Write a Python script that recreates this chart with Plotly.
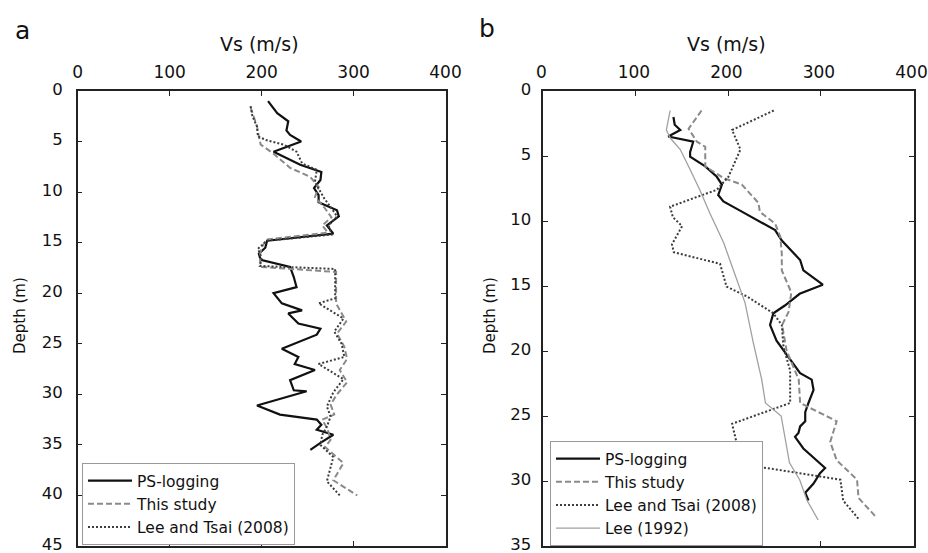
import plotly.graph_objects as go

# ---------------- Panel a data (depth m, Vs m/s) ----------------
a_ps_depth = [1.0, 2.2, 3.0, 3.9, 4.35, 5.0, 6.0, 7.3, 8.0, 8.8, 9.6, 10.3, 11.0, 11.8, 12.4, 13.3, 14.1,
              14.8, 15.5, 16.1, 16.7, 17.4, 18.4, 19.4, 20.0, 21.0, 21.7, 22.0, 23.0, 23.5, 24.1, 25.5,
              26.3, 27.0, 27.6, 28.6, 29.6, 29.7, 31.1, 32.0, 32.5, 33.0, 33.5, 34.0, 34.8, 35.5]
a_ps_vs = [207, 217, 229, 227, 231, 243, 213, 242, 265, 264, 257, 262, 262, 282, 284, 271, 278,
           206, 204, 197, 199, 231, 235, 238, 213, 222, 244, 229, 240, 264, 260, 222,
           240, 236, 258, 231, 235, 249, 195, 220, 260, 265, 260, 278, 264, 253]

a_ts_depth = [1.6, 2.5, 3.5, 4.5, 5.3, 6.2, 7.6, 8.5, 9.5, 10.5, 11.5, 12.5, 13.3, 14.0, 14.7, 15.5, 16.3,
              17.4, 17.9, 21.0, 22.8, 24.0, 25.3, 26.5, 27.6, 28.8, 30.0, 31.0, 32.0, 32.5, 33.5, 34.5,
              35.2, 36.8, 38.5, 40.0]
a_ts_vs = [188, 191, 195, 197, 199, 213, 231, 253, 262, 258, 268, 276, 266, 272, 205, 200, 198,
           199, 281, 281, 292, 282, 290, 293, 285, 293, 282, 275, 279, 266, 272, 275,
           269, 289, 278, 304]

a_lt_depth = [1.5, 2.5, 3.5, 4.5, 4.85, 5.3, 6.0, 7.15, 7.8, 9.0, 9.8, 10.6, 11.6, 12.4, 13.3, 14.2, 14.8,
              15.6, 16.5, 17.3, 17.6, 20.5, 21.0, 22.5, 23.8, 25.0, 26.3, 27.0, 28.5, 29.8, 31.2, 32.2,
              33.2, 34.0, 35.0, 36.2, 38.6, 40.0]
a_lt_vs = [188, 190, 195, 196, 205, 224, 238, 244, 260, 258, 263, 268, 276, 282, 273, 276, 206,
           196, 200, 198, 280, 280, 262, 289, 279, 287, 290, 262, 289, 278, 271, 275,
           271, 266, 264, 278, 271, 285]

# ---------------- Panel b data ----------------
b_ps_depth = [2.0, 2.6, 3.0, 3.5, 3.9, 4.7, 5.05, 5.8, 6.6, 7.2, 8.0, 8.5, 9.2, 10.05, 10.7, 11.5, 12.4,
              13.0, 13.8, 14.9, 15.6, 16.5, 17.1, 18.0, 19.2, 20.5, 21.7, 22.2, 23.0, 24.0, 24.7, 25.4,
              25.8, 26.3, 26.6, 27.5, 28.4, 29.0, 29.4, 30.2, 30.9, 31.5]
b_ps_vs = [140.6, 142, 148, 135, 162, 158.6, 158.6, 175, 187.5, 193, 189, 194.6, 212.6, 234, 250.5, 257.7, 270,
           277.5, 281, 302, 277, 261, 248.6, 245, 252, 265, 277.5, 290, 292, 286.5, 283, 283,
           277.5, 275.7, 272, 281, 295.6, 304.5, 299, 292, 283, 286.5]

b_ts_depth = [1.5, 2.9, 3.9, 4.3, 5.8, 6.7, 7.2, 7.9, 8.6, 9.3, 10.2, 11.2, 12.5, 13.8, 15.5, 17.0, 18.0,
              20.0, 22.2, 24.0, 25.4, 27.0, 28.4, 29.9, 31.3, 32.7]
b_ts_vs = [171, 157, 166, 175, 175, 195, 214.5, 223.5, 232.4, 234, 250.5, 256, 257.7, 257.7, 268, 265, 258,
           263, 276, 277.5, 317, 310, 317, 339, 340.6, 358.6]

b_lt_depth = [1.5, 2.0, 3.0, 4.5, 6.6, 7.6, 8.9, 9.7, 10.4, 11.8, 12.4, 13.3, 15.05, 15.8, 17.1, 18.0,
              19.7, 21.5, 24.0, 25.6, 27.1, 28.8, 29.0, 29.9, 31.5, 32.9]
b_lt_vs = [249, 234, 204, 213, 200, 187.5, 137, 140, 150, 139, 141, 191, 198, 220, 248.6, 257.7,
           259.5, 266.7, 266.7, 204, 209, 212, 241.5, 321, 324, 340.5]

b_lee_depth = [1.5, 3.0, 3.6, 4.5, 6.1, 7.6, 9.4, 11.7, 13.5, 16.3, 19.4, 22.2, 24.0, 25.0, 27.0, 28.6,
               29.9, 31.5, 33.0]
b_lee_vs = [137, 133, 137, 148, 159, 169, 180, 195, 204, 218, 227, 236, 240, 257, 262, 266,
            277, 285, 297]

x_ticks = [0, 100, 200, 300, 400]
a_depth_ticks = [0, 5, 10, 15, 20, 25, 30, 35, 40, 45]
b_depth_ticks = [0, 5, 10, 15, 20, 25, 30, 35]

FONT = "DejaVu Sans"
BLACK = "#111111"
DASH_GRAY = "#8a8a8a"
DOT_GRAY = "#3c3c3c"
LEE_GRAY = "#a0a0a0"

fig = go.Figure()

def add(x, y, name, color, width, dash, xa, ya, legend):
    fig.add_trace(go.Scatter(x=x, y=y, mode="lines", name=name,
                             line=dict(color=color, width=width, dash=dash),
                             xaxis=xa, yaxis=ya, legend=legend))

add(a_ps_vs, a_ps_depth, "PS-logging", BLACK, 2.2, "solid", "x", "y", "legend")
add(a_ts_vs, a_ts_depth, "This study", DASH_GRAY, 2, "6px,3px", "x", "y", "legend")
add(a_lt_vs, a_lt_depth, "Lee and Tsai (2008)", DOT_GRAY, 2, "2px,2px", "x", "y", "legend")

add(b_ps_vs, b_ps_depth, "PS-logging", BLACK, 2.2, "solid", "x2", "y2", "legend2")
add(b_ts_vs, b_ts_depth, "This study", DASH_GRAY, 2, "6px,3px", "x2", "y2", "legend2")
add(b_lt_vs, b_lt_depth, "Lee and Tsai (2008)", DOT_GRAY, 2, "2px,2px", "x2", "y2", "legend2")
add(b_lee_vs, b_lee_depth, "Lee (1992)", LEE_GRAY, 1.3, "solid", "x2", "y2", "legend2")

W, H = 928, 553
ytop = 1 - 91 / H
ybot = 1 - 546 / H

xax = dict(range=[0, 400], tickvals=x_ticks, side="top", ticks="inside", ticklen=5,
           tickwidth=1.2, tickcolor="#222", showline=True, linecolor="#222", linewidth=1.5,
           mirror="ticks", showgrid=False, zeroline=False, automargin=False,
           ticklabeloverflow="allow",
           tickfont=dict(family=FONT, size=17, color="#111"), ticklabelstandoff=4)
yax = dict(ticks="inside", ticklen=5, tickwidth=1.2, tickcolor="#222", showline=True,
           linecolor="#222", linewidth=1.5, mirror="ticks", showgrid=False, zeroline=False,
           automargin=False, ticklabeloverflow="allow", ticklabelshift=2,
           tickfont=dict(family=FONT, size=16.5, color="#111"))

legend_style = dict(font=dict(family=FONT, size=15.5, color="#111"), bgcolor="white",
                    bordercolor="#999", borderwidth=1, xanchor="left", yanchor="top",
                    tracegroupgap=0, itemwidth=44)

fig.update_layout(
    width=W, height=H, margin=dict(l=0, r=0, t=0, b=0, pad=0, autoexpand=False),
    paper_bgcolor="white", plot_bgcolor="white",
    xaxis=dict(xax, domain=[77.7 / W, 445.5 / W], anchor="y"),
    yaxis=dict(yax, domain=[ybot, ytop], range=[45, 0], tickvals=a_depth_ticks, anchor="x",
               ticklabelstandoff=10),
    xaxis2=dict(xax, domain=[543.3 / W, 913.5 / W], anchor="y2", ticklabelshift=-2),
    yaxis2=dict(yax, domain=[ybot, ytop], range=[35, 0], tickvals=b_depth_ticks, anchor="x2",
                ticklabelstandoff=7),
    legend=dict(legend_style, x=82 / W, y=1 - 463 / H),
    legend2=dict(legend_style, x=550 / W, y=1 - 441 / H),
    showlegend=True,
)

ann = []
ann.append(dict(text="a", x=13 / W, y=1 - 31 / H, xanchor="left", yanchor="middle",
                font=dict(family=FONT, size=25, color="#111")))
ann.append(dict(text="b", x=477 / W, y=1 - 29 / H, xanchor="left", yanchor="middle",
                font=dict(family=FONT, size=25, color="#111")))
for cx in (259, 726.5):
    ann.append(dict(text="Vs (m/s)", x=cx / W, y=1 - 44 / H, xanchor="center", yanchor="middle",
                    font=dict(family=FONT, size=19, color="#111")))
for cx in (20, 490):
    ann.append(dict(text="Depth (m)", x=cx / W, y=1 - 316 / H, xanchor="center", yanchor="middle",
                    textangle=-90, font=dict(family=FONT, size=15, color="#111")))
for a in ann:
    a.update(xref="paper", yref="paper", showarrow=False)
fig.update_layout(annotations=ann)

post = ("document.documentElement.style.margin='0';"
        "document.body.style.margin='0';document.body.style.padding='0';"
        "document.body.style.overflow='hidden';")
fig.write_html("out.html", config={"displayModeBar": False}, post_script=post)
